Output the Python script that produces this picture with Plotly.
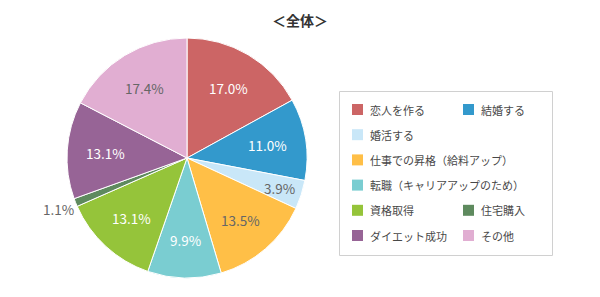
import math
import plotly.graph_objects as go

# ---- data ----
categories = ["恋人を作る", "結婚する", "婚活する", "仕事での昇格（給料アップ）",
              "転職（キャリアアップのため）", "資格取得", "住宅購入", "ダイエット成功", "その他"]
values = [17.0, 11.0, 3.9, 13.5, 9.9, 13.1, 1.1, 13.1, 17.4]
colors = ["#CC6565", "#3399CC", "#C9E7F8", "#FFBF47", "#7ACDD1",
          "#95C43A", "#5E8A5E", "#976496", "#E1AED2"]
label_colors = ["white", "white", "#666666", "#666666", "white",
                "white", "#666666", "white", "#666666"]
title_text = "＜全体＞"

W, H = 600, 297
# pie geometry (pixels)
CX, CY, R = 187, 158, 120

fig = go.Figure()
fig.add_trace(go.Pie(
    labels=categories, values=values, sort=False, direction="clockwise", rotation=0,
    marker=dict(colors=colors, line=dict(color="white", width=1)),
    textinfo="none", hoverinfo="label+percent", showlegend=False,
    domain=dict(x=[(CX - R) / W, (CX + R) / W], y=[1 - (CY + R) / H, 1 - (CY - R) / H]),
))

annotations = []
total = sum(values)
cum = 0.0
for v, lc in zip(values, label_colors):
    mid = (cum + v / 2) / total * 2 * math.pi
    cum += v
    share = v / total * 100
    f = 1.15 if share < 2 else (0.81 if share < 5 else 0.68)
    px = CX + f * R * math.sin(mid)
    py = CY - f * R * math.cos(mid)
    annotations.append(dict(
        x=px / W, y=1 - py / H, xref="paper", yref="paper", showarrow=False,
        text=f"{v:.1f}%", font=dict(size=13.5, color=lc, family="Noto Sans CJK JP"),
        xanchor="center", yanchor="middle"))

# title
annotations.append(dict(x=0.5, y=1 - 20 / H, xref="paper", yref="paper", showarrow=False,
                        text=f"<b>{title_text}</b>", xanchor="center", yanchor="middle",
                        font=dict(size=14, color="#333333", family="Noto Sans CJK JP")))

# custom legend (two columns with wrapping of long entries)
layout_pos = [(0, 0), (0, 1), (1, 0), (2, 0), (3, 0), (4, 0), (4, 1), (5, 0), (5, 1)]
shapes = [dict(type="rect", xref="paper", yref="paper",
               x0=339.5 / W, x1=552.5 / W, y0=1 - 255.5 / H, y1=1 - 91.5 / H,
               line=dict(color="#D0D0D0", width=1), fillcolor="white", layer="below")]
col_x = [352, 463]
row_y0, row_dy, sw = 109.5, 25.2, 11
for name, c, (r, col) in zip(categories, colors, layout_pos):
    yc = row_y0 + r * row_dy
    x0 = col_x[col]
    shapes.append(dict(type="rect", xref="paper", yref="paper",
                       x0=x0 / W, x1=(x0 + sw) / W, y0=1 - (yc + sw / 2) / H, y1=1 - (yc - sw / 2) / H,
                       line=dict(width=0), fillcolor=c))
    annotations.append(dict(x=(x0 + sw + 5) / W, y=1 - yc / H, xref="paper", yref="paper",
                            showarrow=False, text=name, xanchor="left", yanchor="middle",
                            font=dict(size=11, color="#484848", family="Noto Sans CJK JP")))

fig.update_layout(
    width=W, height=H, margin=dict(l=0, r=0, t=0, b=0),
    paper_bgcolor="white", plot_bgcolor="white",
    annotations=annotations, shapes=shapes,
    font=dict(family="Noto Sans CJK JP"),
)
fig.write_html("out.html")
